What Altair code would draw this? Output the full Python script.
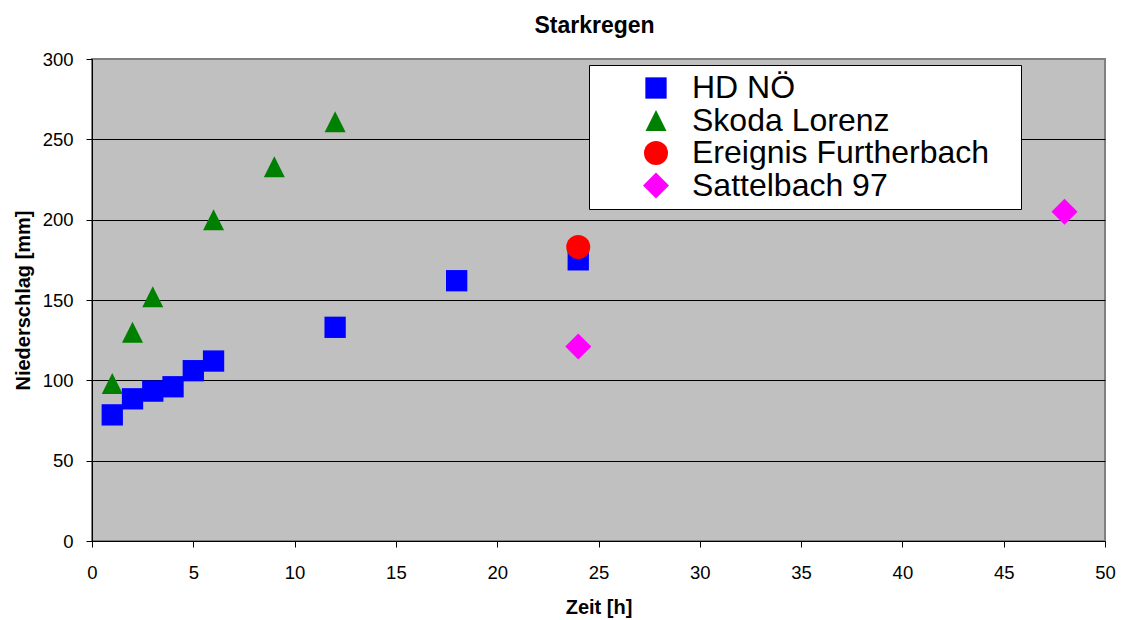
import altair as alt
import pandas as pd

# Heavy-rain depths (mm) over duration (h) for several sources
series_names = ["HD NÖ", "Skoda Lorenz", "Ereignis Furtherbach", "Sattelbach 97"]

hd_hours = [1, 2, 3, 4, 5, 6, 12, 18, 24]
hd_mm = [78.5, 88.5, 93.3, 96, 106, 112, 133, 162, 175]

skoda_hours = [1, 2, 3, 6, 9, 12]
skoda_mm = [98, 130, 152, 200, 233, 261]

furth_hours = [24]
furth_mm = [183]

sattel_hours = [24, 48]
sattel_mm = [121, 205]

rows = []
for name, hours, mm in zip(
    series_names,
    [hd_hours, skoda_hours, furth_hours, sattel_hours],
    [hd_mm, skoda_mm, furth_mm, sattel_mm],
):
    for h, v in zip(hours, mm):
        rows.append({"Serie": name, "Zeit": h, "Niederschlag": v})
df = pd.DataFrame(rows)

FONT = "Liberation Sans"
colors = ["#0000FF", "#008000", "#FF0000", "#FF00FF"]
# square, upward triangle, circle, diamond (paths in the unit box [-1, 1])
shapes = ["square", "M0,-1L1,1L-1,1Z", "circle", "M0,-1L1,0L0,1L-1,0Z"]
sizes = [454, 441, 576, 676]

legend = alt.Legend(
    title=None,
    orient="none",
    legendX=497,
    legendY=6,
    direction="vertical",
    fillColor="white",
    strokeColor="black",
    padding=7,
    symbolOffset=44,
    labelOffset=20,
    rowPadding=0.5,
    labelFont=FONT,
    labelFontSize=32,
    labelColor="black",
    labelLimit=700,
    symbolStrokeWidth=0,
    symbolOpacity=1,
    labelExpr="datum.label + '  \u2009\u200b'",
)

chart = (
    alt.Chart(df)
    .mark_point(filled=True, opacity=1, strokeWidth=0)
    .encode(
        x=alt.X(
            "Zeit:Q",
            scale=alt.Scale(domain=[0, 50], nice=False),
            axis=alt.Axis(
                title="Zeit [h]",
                values=list(range(0, 51, 5)),
                grid=False,
                tickSize=6,
                labelPadding=16,
                labelFlush=False,
                titlePadding=16,
            ),
        ),
        y=alt.Y(
            "Niederschlag:Q",
            scale=alt.Scale(domain=[0, 300], nice=False),
            axis=alt.Axis(
                title="Niederschlag [mm]",
                values=list(range(0, 301, 50)),
                grid=True,
                gridOpacity={
                    "condition": {"test": "datum.value === 0 || datum.value === 300", "value": 0},
                    "value": 1,
                },
                tickSize=6,
                labelPadding=13,
                labelFlush=False,
                titlePadding=9,
            ),
        ),
        color=alt.Color(
            "Serie:N",
            scale=alt.Scale(domain=series_names, range=colors),
            sort=series_names,
            legend=legend,
        ),
        shape=alt.Shape(
            "Serie:N",
            scale=alt.Scale(domain=series_names, range=shapes),
            sort=series_names,
            legend=legend,
        ),
        size=alt.Size(
            "Serie:N",
            scale=alt.Scale(type="ordinal", domain=series_names, range=sizes),
            sort=series_names,
            legend=legend,
        ),
    )
    .properties(
        width=1013,
        height=482,
        title=alt.TitleParams(
            "Starkregen",
            font=FONT,
            fontSize=23,
            fontWeight="bold",
            color="black",
            anchor="middle",
            baseline="bottom",
            offset=-11,
            dx=-4,
        ),
        autosize=alt.AutoSizeParams(type="none"),
        padding={"left": 92, "top": 59, "right": 20, "bottom": 79},
        background="white",
    )
    .configure_view(fill="#C0C0C0", stroke="#808080", strokeWidth=2)
    .configure_legend(strokeWidth=1)
    .configure_axis(
        domainColor="black",
        domainWidth=1,
        tickColor="black",
        tickWidth=1,
        gridColor="black",
        gridWidth=1,
        labelFont=FONT,
        labelFontSize=18.5,
        labelColor="black",
        titleFont=FONT,
        titleFontSize=20,
        titleFontWeight="bold",
        titleColor="black",
    )
)

chart.save("out.html", embed_options={"renderer": "svg", "actions": False})
